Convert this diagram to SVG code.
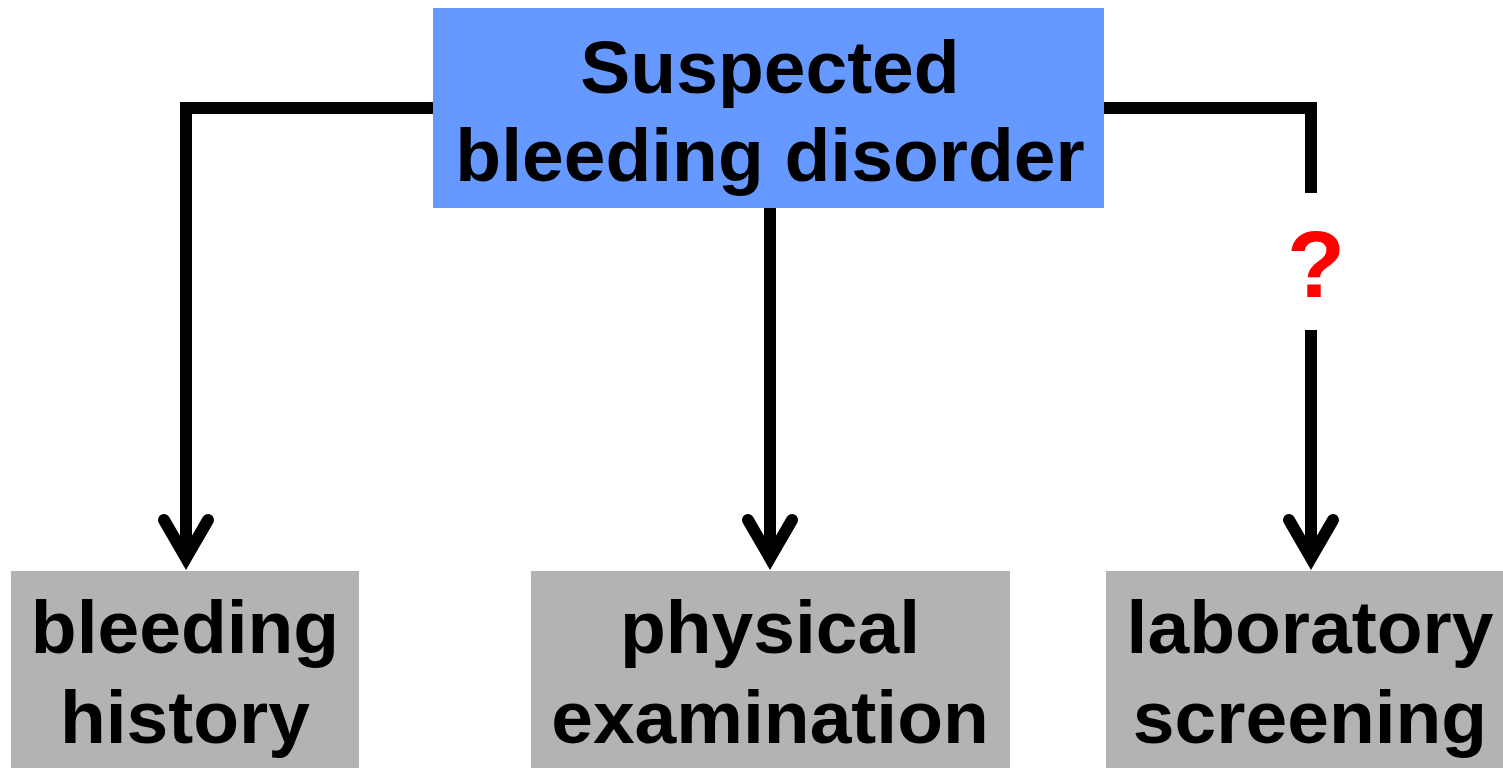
<svg xmlns="http://www.w3.org/2000/svg" width="1503" height="768" viewBox="0 0 1503 768">
<style>
.lbl{font-family:"Liberation Sans",Arial,sans-serif;font-weight:bold;font-size:75px;fill:#000;text-anchor:middle}
.ln{fill:none;stroke:#000;stroke-width:12;stroke-linecap:butt;stroke-linejoin:miter}
.ah{fill:none;stroke:#000;stroke-width:12;stroke-linecap:round;stroke-linejoin:miter;stroke-miterlimit:10}
.q{font-family:"Liberation Sans",Arial,sans-serif;font-weight:bold;font-size:95px;fill:#FF0000;text-anchor:middle}
</style>
<rect width="1503" height="768" fill="#fff"/>
<g id="connectors">
<path class="ln" d="M433,108 H186 V560"/>
<path class="ah" d="M164,520 L186,558 L208,520"/>
<path class="ln" d="M770,208 V560"/>
<path class="ah" d="M748,520 L770,558 L792,520"/>
<path class="ln" d="M1104,108 H1311 V193"/>
<path class="ln" d="M1311,330 V560"/>
<path class="ah" d="M1289,520 L1311,558 L1333,520"/>
<text class="q" x="1316" y="297">?</text>
</g>
<g id="suspected">
<rect x="433" y="8" width="671" height="200" fill="#6699FF"/>
<text class="lbl" x="770" y="93">Suspected</text>
<text class="lbl" x="770" y="181">bleeding disorder</text>
</g>
<g id="history">
<rect x="11" y="571" width="348" height="197" fill="#B3B3B3"/>
<text class="lbl" x="185" y="653">bleeding</text>
<text class="lbl" x="185" y="743">history</text>
</g>
<g id="physical">
<rect x="531" y="571" width="479" height="197" fill="#B3B3B3"/>
<text class="lbl" x="770" y="653">physical</text>
<text class="lbl" x="770" y="743">examination</text>
</g>
<g id="lab">
<rect x="1106" y="571" width="397" height="197" fill="#B3B3B3"/>
<text class="lbl" x="1310" y="653">laboratory</text>
<text class="lbl" x="1310" y="743">screening</text>
</g>
</svg>
